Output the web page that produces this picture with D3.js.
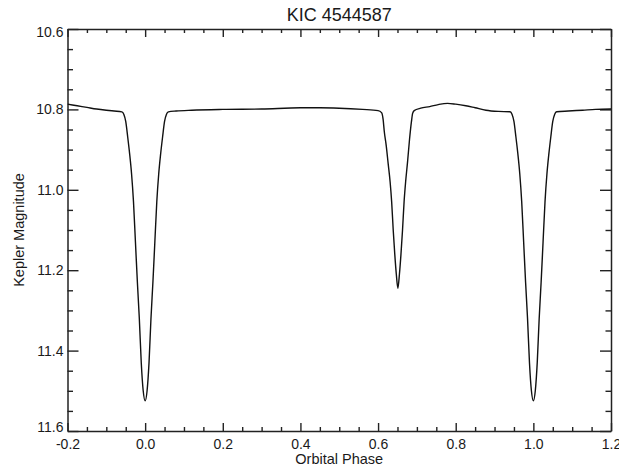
<!DOCTYPE html>
<html>
<head>
<meta charset="utf-8">
<script src="https://cdn.jsdelivr.net/npm/d3@7"></script>
<style>
  html, body { margin: 0; padding: 0; background: #fff; }
  svg { display: block; }
  text { font-family: "Liberation Sans", Arial, sans-serif; fill: #1a1a1a; }
</style>
</head>
<body>
<svg id="chart" width="619" height="473"></svg>
<script>
// Phased light curve of KIC 4544587 (Kepler magnitude vs orbital phase)
const phase = [
  -0.200, -0.175, -0.150, -0.125, -0.100, -0.080, -0.060,
  -0.055, -0.050, -0.045, -0.040, -0.035, -0.030, -0.025, -0.020, -0.015, -0.010, -0.005,
   0.000,
   0.005,  0.010,  0.015,  0.020,  0.025,  0.030,  0.035,  0.040,  0.045,  0.050,  0.055,
   0.060,  0.080,  0.120,  0.200,  0.300,  0.400,  0.450,  0.500,  0.560,  0.600,
   0.609,  0.613,  0.616,  0.621,  0.626,  0.631,  0.635,  0.639,  0.643,  0.647,
   0.651,
   0.655,  0.659,  0.663,  0.667,  0.671,  0.676,  0.681,  0.686,  0.689,
   0.693,  0.710,  0.733,  0.755,  0.779,  0.800,  0.826,  0.850,  0.878,  0.910,  0.940,
   0.945,  0.950,  0.955,  0.960,  0.965,  0.970,  0.975,  0.980,  0.985,  0.990,  0.995,
   1.000,
   1.005,  1.010,  1.015,  1.020,  1.025,  1.030,  1.035,  1.040,  1.045,  1.050,  1.055,
   1.060,  1.090,  1.127,  1.160,  1.200
];
const magnitude = [
  10.787, 10.791, 10.795, 10.799, 10.802, 10.804, 10.806,
  10.812, 10.830, 10.868, 10.910, 10.960, 11.030, 11.130, 11.230, 11.320, 11.430, 11.500,
  11.525,
  11.500, 11.430, 11.320, 11.230, 11.130, 11.030, 10.960, 10.910, 10.868, 10.830, 10.812,
  10.806, 10.804, 10.802, 10.800, 10.799, 10.796, 10.796, 10.797, 10.800, 10.803,
  10.808, 10.825, 10.855, 10.890, 10.935, 10.980, 11.030, 11.100, 11.160, 11.210,
  11.245,
  11.210, 11.160, 11.100, 11.030, 10.980, 10.930, 10.875, 10.830, 10.810,
  10.803, 10.797, 10.793, 10.788, 10.785, 10.787, 10.791, 10.796, 10.802, 10.805, 10.806,
  10.812, 10.830, 10.868, 10.910, 10.960, 11.030, 11.130, 11.230, 11.320, 11.430, 11.500,
  11.525,
  11.500, 11.430, 11.320, 11.230, 11.130, 11.030, 10.960, 10.910, 10.868, 10.830, 10.812,
  10.806, 10.804, 10.802, 10.800, 10.799
];

const xMajor = [-0.2, 0.0, 0.2, 0.4, 0.6, 0.8, 1.0, 1.2];
const xMinor = [-0.15, -0.1, -0.05, 0.05, 0.1, 0.15, 0.25, 0.3, 0.35, 0.45, 0.5, 0.55,
                0.65, 0.7, 0.75, 0.85, 0.9, 0.95, 1.05, 1.1, 1.15];
const yMajor = [10.6, 10.8, 11.0, 11.2, 11.4, 11.6];
const yMinor = [10.65, 10.7, 10.75, 10.85, 10.9, 10.95, 11.05, 11.1, 11.15,
                11.25, 11.3, 11.35, 11.45, 11.5, 11.55];

const titleText = "KIC 4544587";
const xLabel = "Orbital Phase";
const yLabel = "Kepler Magnitude";

const box = { left: 67.5, right: 611, top: 29, bottom: 431 };
const svg = d3.select("#chart");

const x = d3.scaleLinear().domain([-0.2, 1.2]).range([box.left, box.right]);
// magnitudes grow downward
const y = d3.scaleLinear().domain([10.6, 11.6]).range([box.top, box.bottom]);

const fmt = d => d.toFixed(1);
const axisColor = "#222";

function styleAxis(g) {
  g.selectAll("path.domain").attr("stroke", axisColor).attr("stroke-width", 1.5);
  g.selectAll(".tick line").attr("stroke", axisColor).attr("stroke-width", 1.4);
  g.selectAll(".tick text").style("font-size", "14px").attr("fill", "#1a1a1a");
}

// bottom axis with labels
svg.append("g")
  .attr("transform", `translate(0,${box.bottom})`)
  .call(d3.axisBottom(x).tickValues(xMajor).tickFormat(fmt).tickSizeInner(-8).tickSizeOuter(0).tickPadding(8))
  .call(styleAxis);
svg.append("g")
  .attr("transform", `translate(0,${box.bottom})`)
  .call(d3.axisBottom(x).tickValues(xMinor).tickFormat("").tickSizeInner(-4).tickSizeOuter(0))
  .call(g => g.select("path.domain").remove())
  .call(styleAxis);

// top axis, ticks only
svg.append("g")
  .attr("transform", `translate(0,${box.top})`)
  .call(d3.axisTop(x).tickValues(xMajor).tickFormat("").tickSizeInner(-8).tickSizeOuter(0))
  .call(styleAxis);
svg.append("g")
  .attr("transform", `translate(0,${box.top})`)
  .call(d3.axisTop(x).tickValues(xMinor).tickFormat("").tickSizeInner(-4).tickSizeOuter(0))
  .call(g => g.select("path.domain").remove())
  .call(styleAxis);

// left axis with labels
const leftAxis = svg.append("g")
  .attr("transform", `translate(${box.left},0)`)
  .call(d3.axisLeft(y).tickValues(yMajor).tickFormat(fmt).tickSizeInner(-11).tickSizeOuter(0).tickPadding(4))
  .call(styleAxis);
// end labels sit slightly inside the frame
leftAxis.selectAll(".tick text")
  .attr("dy", d => d === 10.6 ? "0.55em" : (d === 11.6 ? "0.0em" : "0.32em"));
svg.append("g")
  .attr("transform", `translate(${box.left},0)`)
  .call(d3.axisLeft(y).tickValues(yMinor).tickFormat("").tickSizeInner(-5.5).tickSizeOuter(0))
  .call(g => g.select("path.domain").remove())
  .call(styleAxis);

// right axis, ticks only
svg.append("g")
  .attr("transform", `translate(${box.right},0)`)
  .call(d3.axisRight(y).tickValues(yMajor).tickFormat("").tickSizeInner(-11).tickSizeOuter(0))
  .call(styleAxis);
svg.append("g")
  .attr("transform", `translate(${box.right},0)`)
  .call(d3.axisRight(y).tickValues(yMinor).tickFormat("").tickSizeInner(-5.5).tickSizeOuter(0))
  .call(g => g.select("path.domain").remove())
  .call(styleAxis);

// light curve
svg.append("clipPath").attr("id", "plot-clip")
  .append("rect")
  .attr("x", box.left).attr("y", box.top)
  .attr("width", box.right - box.left).attr("height", box.bottom - box.top);

const points = phase.map((p, i) => [p, magnitude[i]]);
const line = d3.line()
  .x(d => x(d[0]))
  .y(d => y(d[1]))
  .curve(d3.curveMonotoneX);

svg.append("path")
  .datum(points)
  .attr("clip-path", "url(#plot-clip)")
  .attr("d", line)
  .attr("fill", "none")
  .attr("stroke", "#111")
  .attr("stroke-width", 1.4)
  .attr("stroke-linejoin", "round");

// title and axis titles
svg.append("text")
  .attr("x", (box.left + box.right) / 2)
  .attr("y", 20.5)
  .attr("text-anchor", "middle")
  .style("font-size", "18px")
  .text(titleText);

svg.append("text")
  .attr("x", (box.left + box.right) / 2)
  .attr("y", 464)
  .attr("text-anchor", "middle")
  .style("font-size", "14.5px")
  .text(xLabel);

svg.append("text")
  .attr("transform", `translate(24,${(box.top + box.bottom) / 2}) rotate(-90)`)
  .attr("text-anchor", "middle")
  .style("font-size", "14.5px")
  .text(yLabel);
</script>
</body>
</html>
